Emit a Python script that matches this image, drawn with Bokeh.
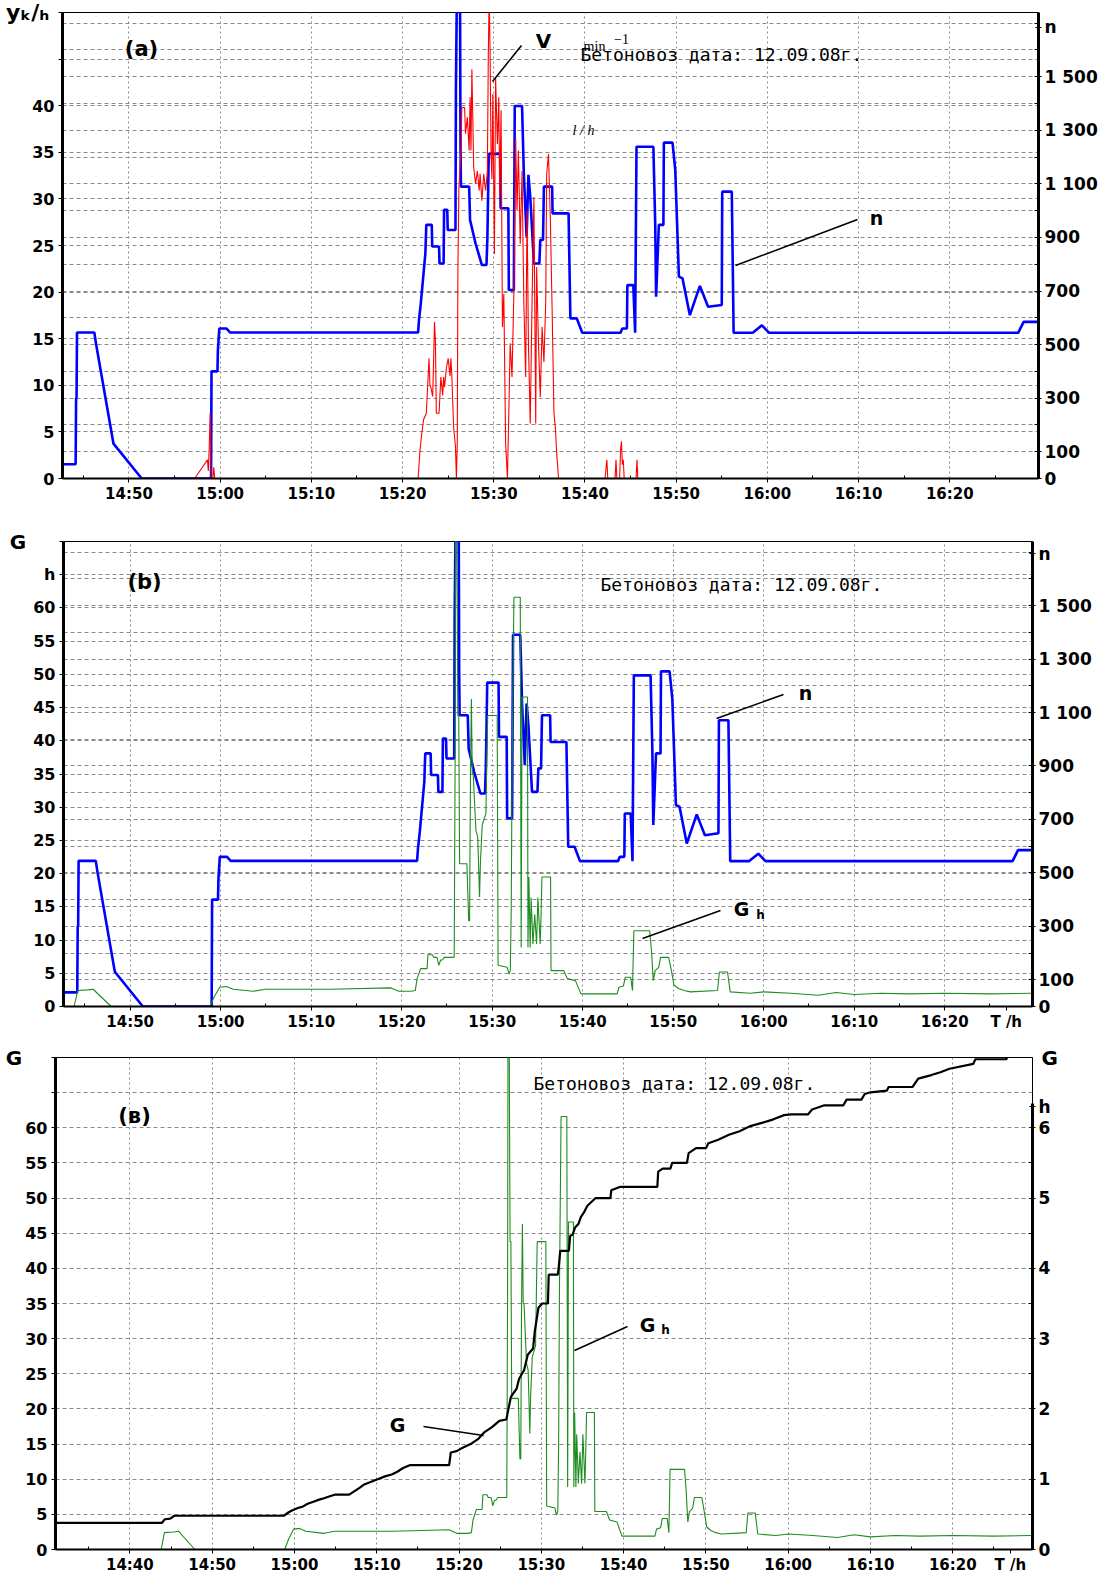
import numpy as np
from bokeh.plotting import figure
from bokeh.models import Range1d, LinearAxis, FixedTicker, Grid, Label
from bokeh.layouts import column, row
from bokeh.embed import file_html
from bokeh.resources import INLINE

# ---------------- DATA (time in minutes after 14:00) ----------------
n_time = [
    42.65, 44.15, 44.2, 44.25, 44.3, 46.2, 46.4, 48.3, 51.4, 59.0,
    59.05, 59.7, 59.75, 59.9, 60.7, 61.1, 81.7, 81.8, 82.0, 82.5,
    82.6, 83.2, 83.25, 84.0, 84.05, 84.5, 84.55, 84.9, 84.95, 85.8,
    85.85, 85.95, 86.3, 86.35, 86.4, 87.3, 87.4, 88.0, 88.7, 89.2,
    89.3, 89.45, 90.7, 90.75, 91.6, 91.65, 92.2, 92.3, 93.1, 93.3,
    93.6, 93.8, 94.0, 94.4, 95.0, 95.1, 95.4, 95.5, 96.4, 96.45,
    98.2, 98.4, 99.1, 99.7, 103.9, 104.1, 104.6, 104.65, 105.3, 105.5,
    105.65, 107.5, 107.7, 107.8, 108.1, 108.6, 108.65, 109.6, 109.9, 110.3,
    110.7, 111.5, 112.6, 113.5, 115.0, 115.05, 116.1, 116.3, 118.4, 119.4,
    120.2, 147.5, 148.1, 149.7]
n_rpm = [
    53, 53, 300, 300, 545, 545, 500, 130, 0, 0,
    400, 400, 478, 560, 560, 545, 545, 592, 654, 841,
    947, 947, 866, 866, 803, 803, 1003, 1003, 928, 928,
    1457, 1800, 1800, 1252, 1090, 1090, 965, 878, 797, 797,
    897, 1212, 1212, 1009, 1009, 704, 704, 1391, 1391, 1134,
    903, 1134, 1053, 803, 803, 891, 891, 1090, 1090, 990,
    990, 598, 598, 544, 544, 560, 560, 722, 722, 544,
    1239, 1239, 953, 679, 947, 947, 1254, 1254, 1152, 754,
    747, 610, 719, 641, 648, 1071, 1071, 544, 544, 572,
    544, 544, 585, 585]

v_time = [
    42.65, 57.2, 58.6, 58.7, 58.8, 58.9, 59.0, 59.2, 59.3, 59.4,
    81.7, 81.9, 82.1, 82.3, 82.6, 82.8, 82.9, 83.0, 83.1, 83.3,
    83.4, 83.5, 83.6, 83.7, 84.0, 84.2, 84.4, 84.5, 84.6, 84.8,
    85.0, 85.2, 85.3, 85.4, 85.6, 85.8, 85.9, 86.0, 86.06, 86.17,
    86.4, 86.5, 86.8, 86.9, 87.1, 87.3, 87.4, 87.5, 87.6, 87.8,
    88.0, 88.2, 88.4, 88.5, 88.7, 88.9, 89.1, 89.3, 89.4, 89.5,
    89.6, 89.7, 89.8, 89.9, 90.07, 90.2, 90.4, 90.55, 90.65, 90.8,
    90.95, 91.1, 91.3, 91.5, 91.6, 91.8, 92.0, 92.2, 92.4, 92.55,
    92.7, 92.9, 93.1, 93.3, 93.5, 93.65, 93.8, 94.0, 94.2, 94.4,
    94.6, 94.7, 94.9, 95.1, 95.3, 95.5, 95.7, 95.8, 96.0, 96.2,
    96.4, 96.6, 96.75, 96.9, 97.1, 102.2, 102.4, 102.5, 103.3, 103.4,
    103.5, 103.8, 103.9, 104.0, 104.1, 104.2, 104.3, 105.6, 105.7, 105.8,
    149.7]
v_kmh = [
    0, 0, 2.0, 0.8, 3.4, 7.0, 0, 0, 1.2, 0,
    0, 2.9, 4.8, 6.3, 7.0, 10.9, 12.9, 10.0, 9.8, 8.8,
    12.5, 16.8, 14.8, 7.0, 7.0, 10.9, 8.9, 10.9, 9.8, 11.8,
    12.9, 11.0, 12.9, 11.0, 5.5, 3.4, 0, 3.8, 21.6, 30.9,
    35.2, 39.8, 39.8, 37.0, 38.75, 35.2, 40.9, 35.2, 43.9, 33.4,
    31.6, 33.0, 30.9, 32.7, 29.8, 32.7, 30.9, 33.0, 45.5, 52.0,
    45.5, 34.8, 32.1, 41.25, 24.1, 43.0, 35.9, 40.9, 30.2, 39.5,
    16.25, 19.8, 3.75, 0, 4.8, 14.5, 10.9, 19.8, 36.6, 28.75,
    35.2, 25.2, 33.0, 18.75, 10.9, 28.75, 14.5, 5.9, 19.1, 30.2,
    5.9, 22.7, 14.5, 8.75, 16.25, 12.5, 19.1, 32.7, 34.8, 28.0,
    18.0, 7.0, 5.5, 2.7, 0, 0, 2.0, 0, 0, 2.0,
    0, 0, 3.0, 4.0, 1.5, 2.0, 0, 0, 2.0, 0,
    0]

gh_time = [
    30.9, 43.8, 44.2, 45.3, 45.9, 47.9, 58.8, 59.3, 59.9, 60.6,
    61.4, 63.6, 64.9, 72.0, 78.8, 79.7, 81.0, 81.5, 81.7, 82.1,
    82.8, 82.9, 83.4, 83.55, 83.9, 84.1, 84.3, 84.5, 84.7, 85.8,
    85.9, 85.95, 86.1, 86.2, 86.3, 86.4, 87.2, 87.4, 87.5, 87.6,
    87.7, 87.8, 87.9, 88.2, 88.4, 88.6, 88.7, 88.9, 89.3, 89.4,
    89.5, 90.55, 90.65, 91.65, 91.85, 92.0, 92.1, 92.2, 92.4, 93.1,
    93.2, 93.3, 93.9, 93.95, 94.05, 94.2, 94.3, 94.5, 94.7, 94.9,
    95.05, 95.3, 95.4, 95.5, 96.45, 96.5, 97.9, 98.3, 99.2, 99.8,
    103.8, 104.0, 104.5, 104.7, 105.3, 105.5, 105.65, 107.4, 107.6, 107.8,
    108.0, 108.4, 108.6, 109.5, 109.8, 110.1, 110.6, 111.2, 111.9, 114.9,
    115.1, 116.0, 116.3, 118.5, 120.0, 123.0, 126.0, 128.0, 130.0, 133.0,
    136.0, 140.0, 145.0, 149.7]
gh_val = [
    0, 0, 2.4, 2.5, 2.6, 0, 0, 1.5, 2.9, 3.0,
    2.6, 2.3, 2.6, 2.6, 2.8, 2.3, 2.3, 2.4, 4.2, 5.7,
    5.7, 7.8, 7.8, 7.4, 7.4, 6.2, 7.0, 7.0, 7.4, 7.4,
    36.5, 72.0, 72.0, 43.8, 43.8, 21.5, 21.5, 12.9, 12.9, 35.0,
    46.3, 35.0, 35.0, 26.5, 25.5, 16.5, 21.8, 27.4, 29.0, 36.5,
    43.8, 43.8, 6.2, 5.9, 4.9, 5.4, 14.5, 36.5, 61.6, 61.6,
    8.9, 46.6, 46.6, 8.9, 19.5, 8.9, 16.4, 9.4, 13.9, 9.4,
    16.4, 9.4, 13.9, 19.5, 19.5, 5.4, 5.4, 4.2, 3.9, 1.9,
    1.9, 2.9, 3.1, 4.4, 4.4, 2.4, 11.4, 11.4, 8.4, 3.9,
    5.4, 5.9, 7.4, 7.4, 5.4, 3.2, 2.7, 2.4, 2.2, 2.4,
    5.2, 5.2, 2.2, 2.0, 2.2, 2.0, 1.7, 2.1, 1.8, 2.0,
    1.9, 2.0, 1.9, 2.0]

g_time = [
    30.9, 43.9, 44.25, 44.9, 45.4, 58.7, 59.3, 59.7, 60.4, 61.0,
    61.6, 62.3, 63.0, 63.6, 64.2, 64.9, 66.65, 67.95, 68.4, 69.25,
    70.1, 71.0, 71.9, 72.55, 73.2, 74.0, 78.8, 79.0, 79.7, 80.5,
    81.4, 82.3, 83.1, 84.0, 84.9, 85.75, 86.0, 86.3, 87.0, 87.3,
    87.9, 88.35, 89.0, 89.2, 89.65, 90.1, 90.8, 90.9, 92.0, 92.1,
    92.3, 93.35, 93.5, 93.8, 94.1, 94.5, 94.8, 95.2, 95.6, 96.6,
    98.4, 98.5, 99.6, 104.1, 104.2, 104.75, 105.7, 105.9, 107.7, 107.9,
    108.8, 110.0, 110.3, 111.5, 112.8, 114.1, 115.3, 116.8, 118.2, 119.5,
    120.4, 122.4, 122.9, 124.4, 126.7, 127.1, 128.9, 129.3, 130.0, 132.0,
    132.2, 135.1, 135.8, 137.4, 138.5, 139.6, 142.5, 142.75, 146.5, 146.8,
    149.7]
g_val = [
    3.8, 3.8, 4.3, 4.4, 4.8, 4.8, 5.3, 5.55, 5.9, 6.1,
    6.5, 6.8, 7.1, 7.3, 7.55, 7.8, 7.8, 8.8, 9.2, 9.6,
    10.0, 10.4, 10.7, 11.1, 11.6, 12.0, 12.0, 13.8, 14.0, 14.5,
    15.0, 15.7, 16.7, 17.4, 18.3, 18.5, 20.0, 21.7, 22.9, 24.3,
    25.5, 27.7, 28.6, 31.0, 34.4, 35.0, 35.0, 39.1, 39.1, 40.0,
    42.5, 42.5, 44.6, 44.8, 45.8, 46.3, 47.3, 48.0, 48.9, 50.0,
    50.0, 51.1, 51.6, 51.6, 53.75, 54.2, 54.2, 55.0, 55.0, 56.4,
    57.1, 57.1, 57.8, 58.3, 59.0, 59.5, 60.2, 60.7, 61.2, 61.8,
    61.9, 61.9, 62.6, 63.2, 63.2, 64.0, 64.0, 64.8, 65.05, 65.3,
    65.8, 65.8, 67.0, 67.5, 67.9, 68.4, 69.1, 69.75, 69.75, 70.6,
    71.0]

x_ticks_ab = [50, 60, 70, 80, 90, 100, 110, 120, 130, 140]
x_labels_ab = ["14:50", "15:00", "15:10", "15:20", "15:30", "15:40",
               "15:50", "16:00", "16:10", "16:20"]
x_ticks_c = [40, 50, 60, 70, 80, 90, 100, 110, 120, 130, 140]
x_labels_c = ["14:40", "14:50", "15:00", "15:10", "15:20", "15:30", "15:40",
              "15:50", "16:00", "16:10", "16:20"]
n_ticks = [0, 100, 300, 500, 700, 900, 1100, 1300, 1500]
n_labels = ["0", "100", "300", "500", "700", "900", "1 100", "1 300", "1 500"]
gh_ticks = [0, 1, 2, 3, 4, 5, 6]
gh_labels = ["0", "1", "2", "3", "4", "5", "6"]

assert len(n_time) == len(n_rpm)
assert len(v_time) == len(v_kmh)
assert len(gh_time) == len(gh_val)
assert len(g_time) == len(g_val)

# ---------------- STYLE ----------------
SANS = "DejaVu Sans"
SERIF = "Liberation Serif"
MONO = "DejaVu Sans Mono"
BLUE = "#0000ff"
RED = "#ff0000"
GREEN = "#1e8c1e"
GRIDC = "#8a8a8a"


def style_axis(ax, size, width):
    ax.axis_line_color = "black"
    ax.axis_line_width = width
    ax.major_tick_line_color = "black"
    ax.minor_tick_line_color = "black"
    ax.major_label_text_font = SANS
    ax.major_label_text_font_style = "bold"
    ax.major_label_text_font_size = f"{size}px"
    ax.major_label_text_color = "black"


def set_axis_label(ax, text, size, standoff):
    ax.axis_label = text
    ax.axis_label_text_font = SANS
    ax.axis_label_text_font_style = "bold"
    ax.axis_label_text_font_size = f"{size}px"
    ax.axis_label_text_color = "black"
    ax.axis_label_orientation = "horizontal"
    ax.axis_label_standoff = standoff
    try:
        ax.axis_label_align = "end"
    except Exception:
        pass


def make_panel(frame, xr, yl, yr, borders, xticks, xlabels, x_extra,
               lticks, llabels, l_axis_label,
               rticks, rlabels, rminor, rgrid, r_axis_label=None, rbounds=None):
    L, R, T, B = frame
    bl, bt, bb, br = borders
    p = figure(frame_width=int(R - L), frame_height=int(B - T),
               x_range=Range1d(*xr), y_range=Range1d(*yl),
               output_backend="svg", toolbar_location=None,
               min_border_left=bl, min_border_right=br,
               min_border_top=bt, min_border_bottom=bb)
    p.background_fill_color = "white"
    p.border_fill_color = "white"
    p.outline_line_color = "black"
    p.outline_line_width = 1
    p.extra_y_ranges = {"r": Range1d(*yr)}

    xa = p.xaxis[0]
    all_x = list(xticks) + [k for k, _ in x_extra]
    xa.ticker = FixedTicker(ticks=all_x,
                            minor_ticks=[t + 5 for t in [xticks[0] - 10] + list(xticks)])
    xa.major_label_overrides = dict(list(zip(xticks, xlabels)) + list(x_extra))
    style_axis(xa, 15, 2)
    xa.major_tick_out = 4
    xa.major_tick_in = 0
    xa.minor_tick_out = 0
    xa.minor_tick_in = 3
    xa.major_label_standoff = 2

    ya = p.yaxis[0]
    ya.ticker = FixedTicker(ticks=lticks, minor_ticks=[])
    ya.major_label_overrides = dict(zip(lticks, llabels))
    style_axis(ya, 16, 3)
    ya.major_tick_out = 4
    ya.major_tick_in = 0
    ya.major_label_standoff = 4
    if l_axis_label:
        set_axis_label(ya, *l_axis_label)

    ra = LinearAxis(y_range_name="r",
                    ticker=FixedTicker(ticks=rticks, minor_ticks=rminor))
    ra.major_label_overrides = dict(zip(rticks, rlabels))
    style_axis(ra, 17, 3)
    ra.major_tick_out = 3
    ra.major_tick_in = 3
    ra.minor_tick_out = 0
    ra.minor_tick_in = 4
    ra.major_label_standoff = 3
    if rbounds is not None:
        ra.bounds = rbounds
    if r_axis_label:
        set_axis_label(ra, *r_axis_label)
    p.add_layout(ra, "right")

    p.xgrid[0].ticker = FixedTicker(ticks=list(xticks))
    p.xgrid[0].grid_line_color = GRIDC
    p.xgrid[0].grid_line_dash = "2 3"
    p.xgrid[0].grid_line_width = 1
    p.ygrid[0].ticker = FixedTicker(ticks=[t for t in lticks if t % 5 == 0])
    p.ygrid[0].grid_line_color = GRIDC
    p.ygrid[0].grid_line_dash = "4 3"
    p.ygrid[0].grid_line_width = 1
    if rgrid:
        g2 = Grid(dimension=1, y_range_name="r", ticker=FixedTicker(ticks=rgrid),
                  grid_line_color=GRIDC, grid_line_dash="4 3", grid_line_width=1)
        p.add_layout(g2)
    return p


def to_data(geom, px, py):
    (L, R, T, B), xr, yl = geom
    x = xr[0] + (px - L) / (R - L) * (xr[1] - xr[0])
    y = yl[0] + (B - py) / (B - T) * (yl[1] - yl[0])
    return x, y


def add_texts(p, geom, items):
    for (px, py, text, size, font, style, align) in items:
        x, y = to_data(geom, px, py)
        p.add_layout(Label(x=x, y=y, text=text, text_font=font,
                           text_font_size=f"{size}px", text_font_style=style,
                           text_align=align, text_baseline="middle",
                           text_color="black"))


def add_leaders(p, geom, segs):
    x0, y0, x1, y1 = [], [], [], []
    for (ax_, ay_, bx_, by_) in segs:
        a = to_data(geom, ax_, ay_)
        b = to_data(geom, bx_, by_)
        x0.append(a[0]); y0.append(a[1]); x1.append(b[0]); y1.append(b[1])
    p.segment(x0=x0, y0=y0, x1=x1, y1=y1, line_color="black", line_width=1.6)


left_ticks_a = [0, 5, 10, 15, 20, 25, 30, 35, 40, 45, 50]
left_labels_a = [str(t) if t <= 40 else "" for t in left_ticks_a]
left_ticks_bc = list(range(0, 75, 5))
left_labels_bc = [str(t) if t <= 60 else "" for t in left_ticks_bc]
left_labels_b = [("h" if t == 65 else lab) for t, lab in zip(left_ticks_bc, left_labels_bc)]
n_grid = list(range(0, 1800, 100))

# ---------------- PANEL (a) ----------------
frame_a = (62, 1038, 12, 478)
xr_a = (42.71, 149.73)
yl_a = (0, 50)
pa = make_panel(frame_a, xr_a, yl_a, (0, 1740), (62, 12, 40, 71),
                x_ticks_ab, x_labels_ab, [],
                left_ticks_a, left_labels_a, ("y\u2096/\u2095", 22, -20),
                n_ticks + [1684], n_labels + ["n"], n_grid, n_grid)
pa.line(n_time, n_rpm, y_range_name="r", line_color=BLUE, line_width=2.6)
pa.line(v_time, v_kmh, line_color=RED, line_width=1.1)
geom_a = (frame_a, xr_a, yl_a)
add_leaders(pa, geom_a, [(492, 81, 521, 45), (735, 265, 857, 219)])
add_texts(pa, geom_a, [
    (141, 48, "(a)", 21, SANS, "bold", "center"),
    (543, 40, "V", 20, SANS, "bold", "center"),
    (594, 46, "min", 14, SERIF, "normal", "center"),
    (621, 38, "\u22121", 14, SERIF, "normal", "center"),
    (580, 54, "Бетоновоз дата: 12.09.08г.", 18, MONO, "normal", "left"),
    (583, 130, "l / h", 14, SERIF, "italic", "center"),
    (876, 217, "n", 19, SANS, "bold", "center"),
])

# ---------------- PANEL (b) ----------------
frame_b = (63, 1032, 541, 1006)
xr_b = (42.63, 149.70)
yl_b = (0, 70)
pb = make_panel(frame_b, xr_b, yl_b, (0, 1740), (63, 23, 36, 77),
                x_ticks_ab, x_labels_ab, [(146.8, "T /h")],
                left_ticks_bc, left_labels_b, ("G", 20, 4),
                n_ticks + [1695], n_labels + ["n"], n_grid, n_grid)
pb.line(n_time, n_rpm, y_range_name="r", line_color=BLUE, line_width=2.6)
pb.line(gh_time, gh_val, line_color=GREEN, line_width=1.1)
geom_b = (frame_b, xr_b, yl_b)
add_leaders(pb, geom_b, [(716, 718, 783, 694), (642, 938, 720, 910)])
add_texts(pb, geom_b, [
    (144, 581, "(b)", 21, SANS, "bold", "center"),
    (600, 584, "Бетоновоз  дата: 12.09.08г.", 18, MONO, "normal", "left"),
    (805, 692, "n", 19, SANS, "bold", "center"),
    (741, 908, "G", 19, SANS, "bold", "center"),
    (760, 914, "h", 12, SANS, "bold", "center"),
])

# ---------------- PANEL (в) ----------------
frame_c = (55, 1032, 1057, 1549)
xr_c = (30.96, 149.69)
yl_c = (0, 70)
pc = make_panel(frame_c, xr_c, yl_c, (0, 7), (55, 15, 27, 77),
                x_ticks_c, x_labels_c, [(147.0, "T /h")],
                left_ticks_bc, left_labels_bc, ("G", 20, 0),
                gh_ticks + [6.3], gh_labels + ["h"],
                [0.5, 1.5, 2.5, 3.5, 4.5, 5.5], None,
                r_axis_label=("G", 20, -12), rbounds=(0, 6.35))
pc.line(gh_time, gh_val, line_color=GREEN, line_width=1.1)
pc.line(g_time, g_val, line_color="black", line_width=2.2)
geom_c = (frame_c, xr_c, yl_c)
add_leaders(pc, geom_c, [(574, 1350, 627, 1326), (423, 1426, 483, 1435)])
add_texts(pc, geom_c, [
    (134, 1115, "(в)", 21, SANS, "bold", "center"),
    (533, 1083, "Бетоновоз дата: 12.09.08г.", 18, MONO, "normal", "left"),
    (647, 1324, "G", 19, SANS, "bold", "center"),
    (665, 1329, "h", 12, SANS, "bold", "center"),
    (397, 1424, "G", 19, SANS, "bold", "center"),
])

layout = column(row(pa), row(pb), row(pc))
open("out.html", "w").write(file_html(layout, INLINE))
